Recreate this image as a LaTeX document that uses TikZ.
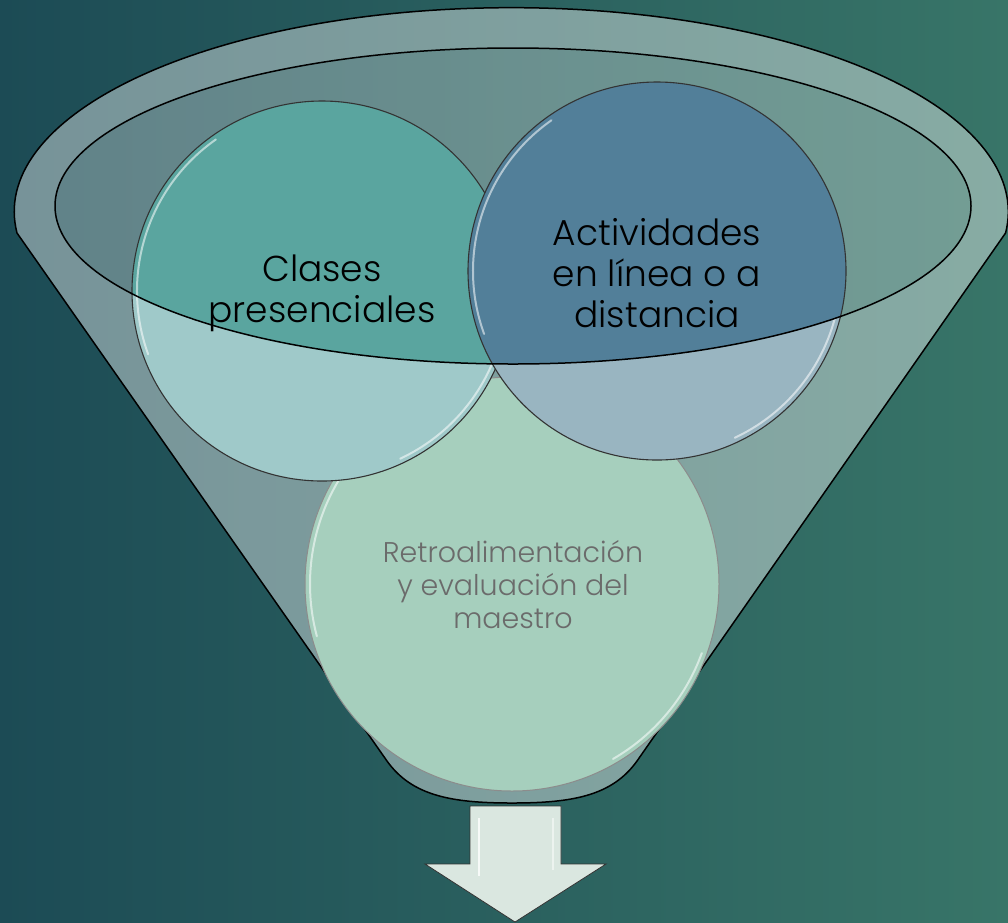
\documentclass[tikz,border=0pt]{standalone}
\usepackage{fontspec}
\IfFontExistsTF{Poppins Light}{\setmainfont{Poppins Light}}{\setmainfont{Poppins}}
\definecolor{bgL}{HTML}{1C4B55}
\definecolor{bgR}{HTML}{387568}
\definecolor{cAtop}{HTML}{5AA59F}
\definecolor{cAbot}{HTML}{9FC9C9}
\definecolor{cBtop}{HTML}{527F99}
\definecolor{cBbot}{HTML}{99B5C1}
\definecolor{cC}{HTML}{A6CFBD}
\definecolor{arrowfill}{HTML}{DAE7E0}
\definecolor{retro}{HTML}{6B6B6B}
\tikzset{
  funnelline/.style={draw=black, line width=1.5pt},
  ballline/.style={draw=black!80, line width=1.1pt},
  glint/.style={draw=white, line width=2pt, opacity=0.55, line cap=round},
  bigtext/.style={font=\fontsize{36}{41}\selectfont, align=center, text=black},
  smalltext/.style={font=\fontsize{28.5}{33}\selectfont, align=center, text=retro}
}
\begin{document}
\begin{tikzpicture}[x=1pt,y=-1pt]
\useasboundingbox (0,0) rectangle (1008,922);
\shade[left color=bgL, right color=bgR] (0,0) rectangle (1008,922);
% funnel body (outside inner ellipse)
\path[fill=white, fill opacity=0.4, even odd rule]
  (17,233) arc[start angle=174, end angle=366, x radius=497, y radius=204]
  -- (637,761) .. controls (612,796) and (572,803) .. (512,803)
  .. controls (452,803) and (412,796) .. (387,761) -- cycle
  (513,206) ellipse[x radius=458, y radius=158];
\fill[white, fill opacity=0.3] (513,206) ellipse[x radius=458, y radius=158];
\path[funnelline]
  (17,233) arc[start angle=174, end angle=366, x radius=497, y radius=204]
  -- (637,761) .. controls (612,796) and (572,803) .. (512,803)
  .. controls (452,803) and (412,796) .. (387,761) -- cycle;
% ball C
\fill[cC] (512,584) circle[radius=207];
\draw[draw=black!45, line width=1pt] (512,584) circle[radius=207];
\draw[glint] (512,584) ++(165:202) arc[start angle=165, end angle=215, radius=202];
\draw[glint] (512,584) ++(20:202) arc[start angle=20, end angle=60, radius=202];
% ball A
\fill[cAbot] (322,291) circle[radius=190];
\begin{scope}
  \clip (513,206) ellipse[x radius=458, y radius=158];
  \fill[cAtop] (322,291) circle[radius=190];
\end{scope}
\draw[ballline] (322,291) circle[radius=190];
\draw[glint] (322,291) ++(160:185) arc[start angle=160, end angle=235, radius=185];
\draw[glint] (322,291) ++(15:185) arc[start angle=15, end angle=65, radius=185];
% ball B
\fill[cBbot] (657,271) circle[radius=189];
\begin{scope}
  \clip (513,206) ellipse[x radius=458, y radius=158];
  \fill[cBtop] (657,271) circle[radius=189];
\end{scope}
\draw[ballline] (657,271) circle[radius=189];
\draw[glint] (657,271) ++(160:184) arc[start angle=160, end angle=235, radius=184];
\draw[glint] (657,271) ++(15:184) arc[start angle=15, end angle=65, radius=184];
% inner rim outline
\draw[funnelline] (513,206) ellipse[x radius=458, y radius=158];
% texts
\node[bigtext] (clases) at (322,293) {Clases\\presenciales};
\node[bigtext] (activ) at (657,273) {Actividades\\en línea o a\\distancia};
\node[smalltext] (retro) at (513,585) {Retroalimentación\\y evaluación del\\maestro};
% arrow
\draw[fill=arrowfill, draw=black!80, line width=0.8pt]
  (470,806) -- (561,806) -- (561,864) -- (606,864) -- (515,922) -- (425,864) -- (470,864) -- cycle;
\draw[white, line width=2.5pt, opacity=0.8] (479,818) -- (479,876);
\draw[white, line width=2.5pt, opacity=0.5] (553,818) -- (553,870);
\end{tikzpicture}
\end{document}
